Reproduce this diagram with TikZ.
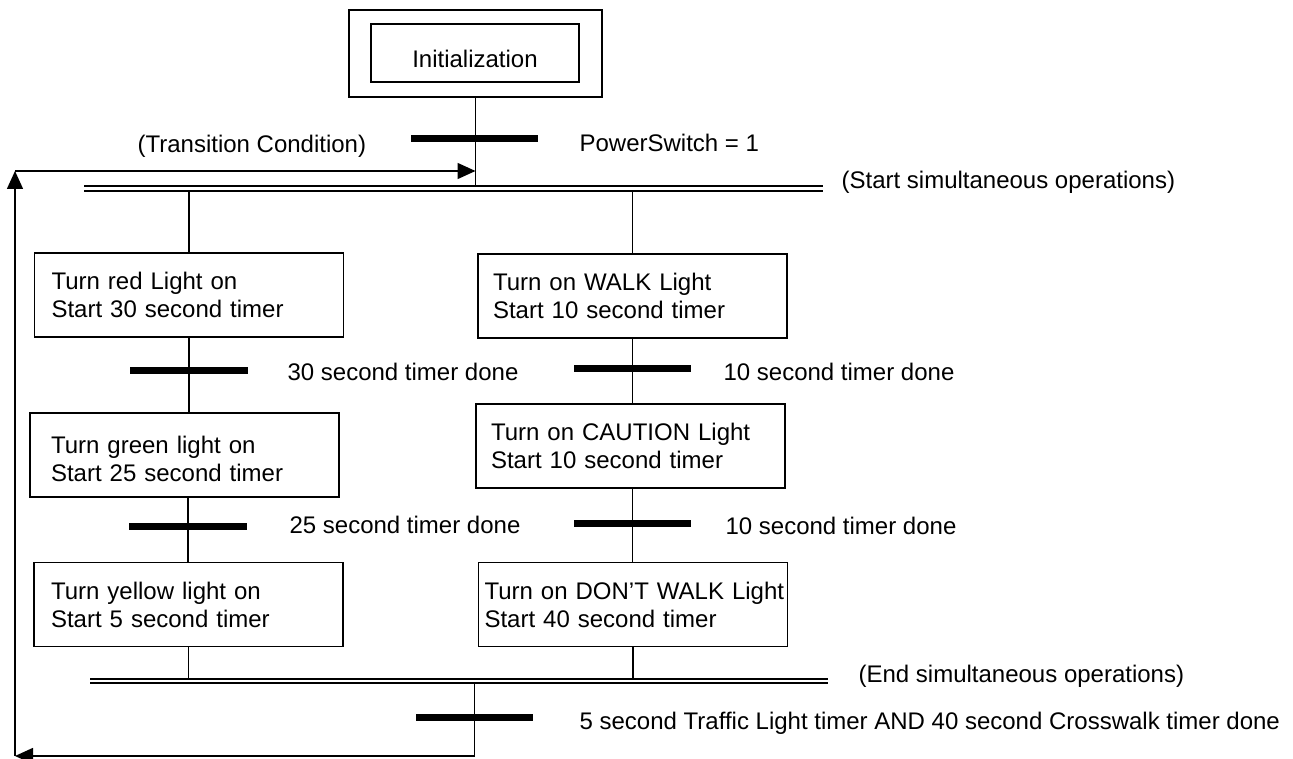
\documentclass[tikz,border=0pt]{standalone}
\usepackage{fontspec}
\setmainfont{Liberation Sans}
\usetikzlibrary{arrows.meta}
\tikzset{
  stepbox/.style={draw,minimum height=84pt,inner ysep=0pt,inner xsep=17pt,text width=275pt,align=left},
  bar/.style={fill=black,inner sep=0pt,minimum width=118pt,minimum height=7pt},
  sync/.style={double,line width=2pt,double distance=2.5pt},
  lbl/.style={anchor=west,inner sep=0pt},
  loopline/.style={line width=1.5pt,-{Triangle[width=16pt,length=18pt]}}
}
\begin{document}
\begin{tikzpicture}[x=1pt,y=-1pt,line width=1.2pt,font=\fontsize{24}{28}\selectfont]
\useasboundingbox (0,0) rectangle (1293,759);
%initial step
\node[draw,minimum width=253pt,minimum height=87pt] (initout) at (475.5,53.5) {};
\node[draw,minimum width=208pt,minimum height=58pt,text height=29.5pt,text depth=0pt] (init) at (475,53) {Initialization};
%fork and join
\coordinate (forkL) at (84,188.5);
\coordinate (forkR) at (823,188.5);
\coordinate (joinL) at (90,681);
\coordinate (joinR) at (828,681);
\coordinate (loopTL) at (15,171);
\coordinate (loopBL) at (15,756);
%traffic light steps
\node[stepbox] (s1) at (189,295) {Turn red Light on\\Start 30 second timer};
\node[stepbox,inner xsep=21pt,text width=267pt,text depth=20pt] (s2) at (184.5,455) {Turn green light on\\Start 25 second timer};
\node[stepbox] (s3) at (188.5,604.5) {Turn yellow light on\\Start 5 second timer};
%crosswalk steps
\node[stepbox,inner xsep=15pt,text width=279pt] (r1) at (632.5,296) {Turn on WALK Light\\Start 10 second timer};
\node[stepbox,inner xsep=15pt,text width=279pt] (r2) at (630.5,446) {Turn on CAUTION Light\\Start 10 second timer};
\node[stepbox,inner xsep=6pt,text width=297pt] (r3) at (633,604.5) {\mbox{Turn on DON'T WALK Light}\\Start 40 second timer};
%transitions
\node[bar,minimum width=127pt] (t0) at (474,138.5) {};
\node[bar] (t1) at (189,370.5) {};
\node[bar] (t2) at (188,526.5) {};
\node[bar,minimum width=117pt] (t3) at (632.5,368.5) {};
\node[bar,minimum width=117pt] (t4) at (632.5,523) {};
\node[bar,minimum width=117pt] (t5) at (474.5,717.5) {};
%links
\draw (initout.south) -- (initout.south |- forkL);
\draw (s1.north) -- (s1.north |- forkL);
\draw (r1.north) -- (r1.north |- forkL);
\draw (t1 |- s1.south) -- (t1 |- s2.north);
\draw (t2 |- s2.south) -- (t2 |- s3.north);
\draw (t3 |- r1.south) -- (t3 |- r2.north);
\draw (t4 |- r2.south) -- (t4 |- r3.north);
\draw (s3.south) -- (s3.south |- joinL);
\draw (r3.south) -- (r3.south |- joinL);
%loop back
\draw[loopline] (t5 |- joinL) -- (t5 |- loopBL) -- (loopBL);
\draw[loopline] (loopBL) -- (loopTL);
\draw[loopline] (loopTL) -- (initout.south |- loopTL);
\draw[sync] (forkL) -- (forkR);
\draw[sync] (joinL) -- (joinR);
%conditions
\node[lbl] (tc) at (137,146) {(Transition Condition)};
\node[lbl] (c0) at (579,143) {PowerSwitch = 1};
\node[lbl] (forklbl) at (841,182) {(Start simultaneous operations)};
\node[lbl] (c1) at (287,372) {30 second timer done};
\node[lbl] (c2) at (289,525) {25 second timer done};
\node[lbl] (c3) at (723,372) {10 second timer done};
\node[lbl] (c4) at (725,526) {10 second timer done};
\node[lbl] (joinlbl) at (858,676) {(End simultaneous operations)};
\node[lbl] (c5) at (579,723) {5 second Traffic Light timer AND 40 second Crosswalk timer done};
\end{tikzpicture}
\end{document}
